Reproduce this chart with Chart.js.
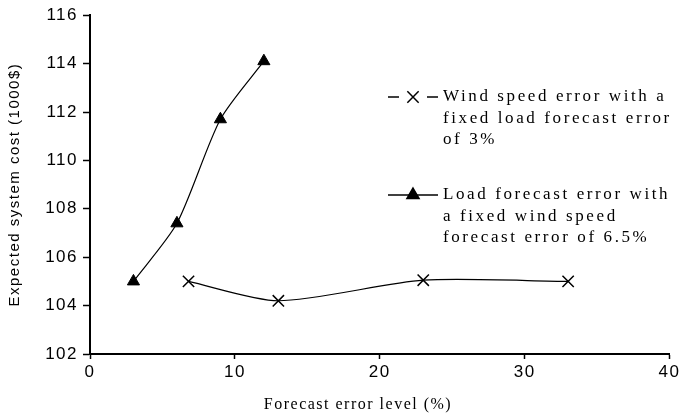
<!DOCTYPE html>
<html>
<head>
<meta charset="utf-8">
<script src="https://cdn.jsdelivr.net/npm/chart.js@4"></script>
<style>
  body { margin: 0; background: #fff; }
</style>
</head>
<body>
<canvas id="myChart" width="682" height="420"></canvas>
<script>
// wind speed error series (x = forecast error level %, y = cost in 1000$)
const windX = [6.8, 13, 23, 33];
const windY = [105.0, 104.2, 105.05, 105.0];
// load forecast error series
const loadX = [3, 6, 9, 12];
const loadY = [105.0, 107.4, 111.7, 114.1];

const xTicks = [0, 10, 20, 30, 40];
const yTicks = [102, 104, 106, 108, 110, 112, 114, 116];

const xTitle = 'Forecast error level (%)';
const yTitle = 'Expected system cost (1000$)';
const windLabel = ['Wind speed error with a', 'fixed load forecast error', 'of 3%'];
const loadLabel = ['Load forecast error with', 'a fixed wind speed', 'forecast error of 6.5%'];

const toPoints = (xs, ys) => xs.map((x, i) => ({ x: x, y: ys[i] }));

// wide letter spacing for the axis text, like the original figure
const spacing = {
    id: 'spacing',
    beforeDraw(chart) { chart.ctx.letterSpacing = '1.5px'; },
    afterDatasetsDraw(chart) { chart.ctx.letterSpacing = '0px'; }
};

// x title sits a bit left of the plot centre in the original, so draw it here
const xTitleText = {
    id: 'xTitleText',
    afterDraw(chart) {
        const c = chart.ctx;
        c.save();
        c.fillStyle = '#000';
        c.font = '16px "Liberation Serif", "Times New Roman", serif';
        c.letterSpacing = '1.5px';
        c.textAlign = 'center';
        c.textBaseline = 'middle';
        c.fillText(xTitle, 358, 405);
        c.restore();
    }
};

// draws the two-entry legend with wrapped text inside the plot area
const sideLegend = {
    id: 'sideLegend',
    afterDraw(chart) {
        const c = chart.ctx;
        const entries = [
            { lines: windLabel, style: 'crossRot', radius: 8, y: 97, gap: true },
            { lines: loadLabel, style: 'triangle', radius: 7, y: 195, gap: false }
        ];
        c.save();
        c.strokeStyle = '#000';
        c.fillStyle = '#000';
        c.lineWidth = 1.5;
        entries.forEach(e => {
            c.beginPath();
            if (e.gap) {
                c.moveTo(388, e.y); c.lineTo(399, e.y);
                c.moveTo(427, e.y); c.lineTo(438, e.y);
            } else {
                c.moveTo(388, e.y); c.lineTo(438, e.y);
            }
            c.stroke();
            Chart.helpers.drawPoint(c, { pointStyle: e.style, radius: e.radius, borderWidth: 1.5 }, 413, e.y);
            if (e.style === 'triangle') c.fill();
            c.font = '17px "Liberation Serif", "Times New Roman", serif';
            c.letterSpacing = '2.6px';
            c.textBaseline = 'middle';
            c.textAlign = 'left';
            e.lines.forEach((t, i) => c.fillText(t, 443, e.y + i * 21.5));
        });
        c.restore();
    }
};

const ctx = document.getElementById('myChart').getContext('2d');

const myChart = new Chart(ctx, {
    type: 'scatter',
    data: {
        datasets: [{
            label: windLabel.join(' '),
            data: toPoints(windX, windY),
            showLine: true,
            tension: 0.25,
            borderColor: '#000',
            borderWidth: 1.2,
            pointStyle: 'crossRot',
            pointRadius: 8,
            pointBorderWidth: 1.5,
            pointBorderColor: '#000',
            pointBackgroundColor: '#000'
        }, {
            label: loadLabel.join(' '),
            data: toPoints(loadX, loadY),
            showLine: true,
            tension: 0.25,
            borderColor: '#000',
            borderWidth: 1.2,
            pointStyle: 'triangle',
            pointRadius: 7,
            pointBorderWidth: 1,
            pointBorderColor: '#000',
            pointBackgroundColor: '#000'
        }]
    },
    options: {
        responsive: false,
        animation: false,
        devicePixelRatio: 1,
        layout: { padding: { top: 15, right: 9, left: 0, bottom: 0 } },
        scales: {
            x: {
                type: 'linear',
                min: 0,
                max: 40,
                afterBuildTicks: s => { s.ticks = xTicks.map(v => ({ value: v })); },
                afterFit: s => { s.height = 66; },
                grid: { drawOnChartArea: false, color: '#000', tickLength: 5, tickWidth: 1.5 },
                border: { color: '#000', width: 2 },
                ticks: {
                    color: '#000',
                    padding: 3,
                    font: { family: '"Liberation Sans", Arial, sans-serif', size: 17 }
                }
            },
            y: {
                min: 102,
                max: 116,
                afterBuildTicks: s => { s.ticks = yTicks.map(v => ({ value: v })); },
                afterFit: s => { s.width = 90; },
                grid: { drawOnChartArea: false, color: '#000', tickLength: 7, tickWidth: 1.5 },
                border: { color: '#000', width: 2 },
                ticks: {
                    color: '#000',
                    padding: 5,
                    font: { family: '"Liberation Sans", Arial, sans-serif', size: 17 }
                },
                title: {
                    display: true,
                    text: yTitle,
                    color: '#000',
                    padding: { top: 6, bottom: 0 },
                    font: { family: '"Liberation Sans", Arial, sans-serif', size: 15 }
                }
            }
        },
        plugins: {
            legend: { display: false },
            tooltip: { enabled: false }
        }
    },
    plugins: [spacing, xTitleText, sideLegend]
});
</script>
</body>
</html>
